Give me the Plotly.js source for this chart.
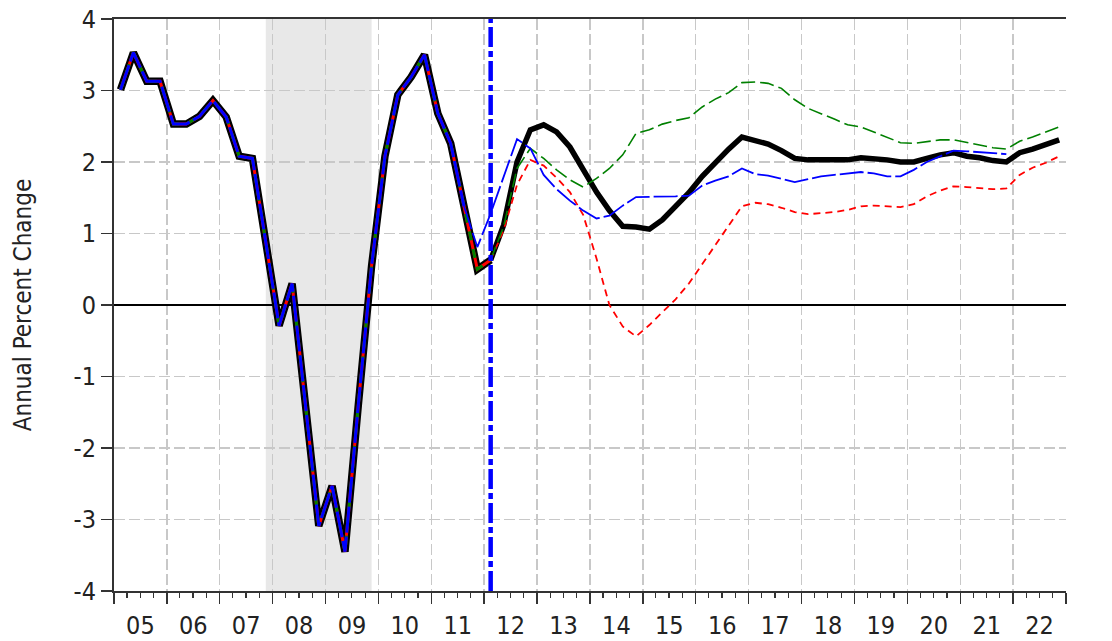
<!DOCTYPE html>
<html>
<head>
<meta charset="utf-8">
<script src="https://cdn.plot.ly/plotly-3.0.1.min.js"></script>
<style>html,body{margin:0;padding:0;background:#fff;}#chart{width:1112px;height:641px;}</style>
</head>
<body>
<div id="chart"></div>
<script>
// ---- DATA ----
const startYear = 2005;           // first quarter = 2005Q1
const endYear = 2023;             // axis ends at start of 2023
// history 2005Q1 .. 2012Q1
const history = [3.01,3.53,3.13,3.13, 2.53,2.53,2.64,2.86, 2.63,2.08,2.05,0.85,
                 -0.29,0.30,-1.42,-3.09, -2.53,-3.45,-1.40,0.55, 2.08,2.94,3.19,3.50,
                 2.68,2.26,1.38,0.50, 0.63];
// forecasts 2012Q1 .. 2022Q4
const baseline = [0.63,1.12,2.00,2.45, 2.52,2.42,2.21,1.88, 1.58,1.32,1.10,1.09,
                  1.06,1.19,1.37,1.57, 1.80,2.00,2.18,2.35, 2.30,2.25,2.16,2.05,
                  2.03,2.03,2.03,2.03, 2.06,2.05,2.03,2.00, 2.00,2.05,2.10,2.13,
                  2.08,2.06,2.02,2.00, 2.13,2.18,2.24,2.31];
const upside   = [0.63,1.10,1.91,2.19, 2.05,1.89,1.75,1.65, 1.77,1.91,2.10,2.40,
                  2.45,2.53,2.58,2.62, 2.77,2.88,2.97,3.11, 3.12,3.10,3.03,2.87,
                  2.75,2.68,2.60,2.52, 2.49,2.42,2.34,2.27, 2.26,2.28,2.31,2.31,
                  2.27,2.24,2.20,2.18, 2.29,2.35,2.42,2.49];
const downside = [0.63,1.05,1.68,2.03, 1.95,1.78,1.58,1.26, 0.65,0.00,-0.30,-0.44,
                  -0.28,-0.10,0.08,0.30, 0.57,0.85,1.12,1.38, 1.43,1.41,1.36,1.30,
                  1.27,1.28,1.30,1.33, 1.38,1.39,1.38,1.37, 1.41,1.52,1.60,1.66,
                  1.65,1.64,1.62,1.63, 1.82,1.92,1.99,2.08];
// alternative scenario 2011Q3 .. 2021Q4
const alternative = [1.38,0.81, 1.28,1.80,2.32,2.19, 1.82,1.62,1.46,1.32, 1.21,1.25,1.39,1.51,
                     1.51,1.51,1.52,1.53, 1.67,1.74,1.80,1.91, 1.83,1.81,1.77,1.72,
                     1.76,1.80,1.82,1.84, 1.86,1.84,1.80,1.80, 1.89,2.00,2.08,2.16,
                     2.15,2.14,2.13,2.11];
const forecastStartIndex = 28;     // 2012Q1
const alternativeStartIndex = 26;  // 2011Q3
const recessionStart = '2007-11-15', recessionEnd = '2009-11-15';
const forecastMarker = '2012-02-15';
const yTicks = [-4,-3,-2,-1,0,1,2,3,4];
const yTickText = ["-4","-3","-2","-1","0","1","2","3","4"];

// ---- helpers ----
const midMonths = ['02','05','08','11'];
const qx = i => (startYear + Math.floor(i / 4)) + '-' + midMonths[i % 4] + '-15';
const xs = (start, arr) => arr.map((_, k) => qx(start + k));

const FONT = '"DejaVu Sans Condensed", "Liberation Sans Narrow", sans-serif';
const TICKFONT = {family:FONT, size:25, color:'#222'};

const traces = [
  {x: xs(0, history), y: history, mode:'lines', line:{color:'#000', width:7.5}},
  {x: xs(forecastStartIndex, baseline), y: baseline, mode:'lines', line:{color:'#000', width:5.5}},
  {x: xs(0, history), y: history, mode:'lines', line:{color:'#ff0000', width:3}},
  {x: xs(0, history), y: history, mode:'lines', line:{color:'#008000', width:3, dash:'9px,9px'}},
  {x: xs(0, history.slice(0, alternativeStartIndex+1)), y: history.slice(0, alternativeStartIndex+1), mode:'lines', line:{color:'#0000ff', width:3, dash:'26px,4px'}},
  {x: xs(forecastStartIndex, downside), y: downside, mode:'lines', line:{color:'#ff0000', width:1.8, dash:'7px,5px'}},
  {x: xs(forecastStartIndex, upside), y: upside, mode:'lines', line:{color:'#008000', width:1.6, dash:'14px,5px'}},
  {x: xs(alternativeStartIndex, alternative), y: alternative, mode:'lines', line:{color:'#0000ff', width:1.8, dash:'24px,4px'}}
];

const layout = {
  width:1112, height:641,
  margin:{l:114, r:46, t:19, b:50},
  paper_bgcolor:'#fff', plot_bgcolor:'#fff',
  showlegend:false,
  font:{family:FONT, size:25, color:'#222'},
  xaxis:{
    type:'date',
    range:[startYear + '-01-01', endYear + '-01-01'],
    tick0: startYear + '-01-01', dtick:'M12', tickformat:'%y', ticklabelmode:'period',
    ticks:'outside', ticklen:11, tickwidth:1.5, tickcolor:'#333',
    showline:true, linecolor:'#333', linewidth:2, mirror:true,
    showgrid:true, gridcolor:'#c8c8c8', gridwidth:1.5, griddash:'11px,4px',
    zeroline:false,
    minor:{dtick:'M3', tick0:startYear + '-01-01', ticks:'outside', ticklen:5, tickwidth:1.2, tickcolor:'#333', showgrid:false},
    tickfont:TICKFONT
  },
  yaxis:{
    range:[-4,4], tickmode:'array', tickvals:yTicks, ticktext:yTickText,
    ticks:'outside', ticklen:11, tickwidth:1.5, tickcolor:'#333',
    showline:true, linecolor:'#333', linewidth:2,
    showgrid:true, gridcolor:'#c8c8c8', gridwidth:1.5, griddash:'11px,4px',
    zeroline:true, zerolinecolor:'#000', zerolinewidth:1.8,
    tickfont:TICKFONT,
    title:{text:'Annual Percent Change', font:{family:FONT, size:24, color:'#222'}, standoff:35}
  },
  yaxis2:{
    range:[-4,4], tickmode:'array', tickvals:yTicks, ticktext:yTickText, overlaying:'y', side:'right', anchor:'x',
    ticks:'outside', ticklen:11, tickwidth:1.5, tickcolor:'#333',
    showline:true, linecolor:'#333', linewidth:2,
    showgrid:false, zeroline:false,
    tickfont:TICKFONT
  },
  shapes:[
    {type:'rect', xref:'x', yref:'paper', x0:recessionStart, x1:recessionEnd, y0:0, y1:1,
     fillcolor:'#e8e8e8', line:{width:0}, layer:'below'},
    {type:'line', xref:'x', yref:'paper', x0:forecastMarker, x1:forecastMarker, y0:0, y1:1,
     line:{color:'#0000ff', width:4.5, dash:'20px,4px,6px,4px'}, layer:'above'}
  ]
};

Plotly.newPlot('chart', traces, layout, {staticPlot:true, displayModeBar:false});
</script>
</body>
</html>
